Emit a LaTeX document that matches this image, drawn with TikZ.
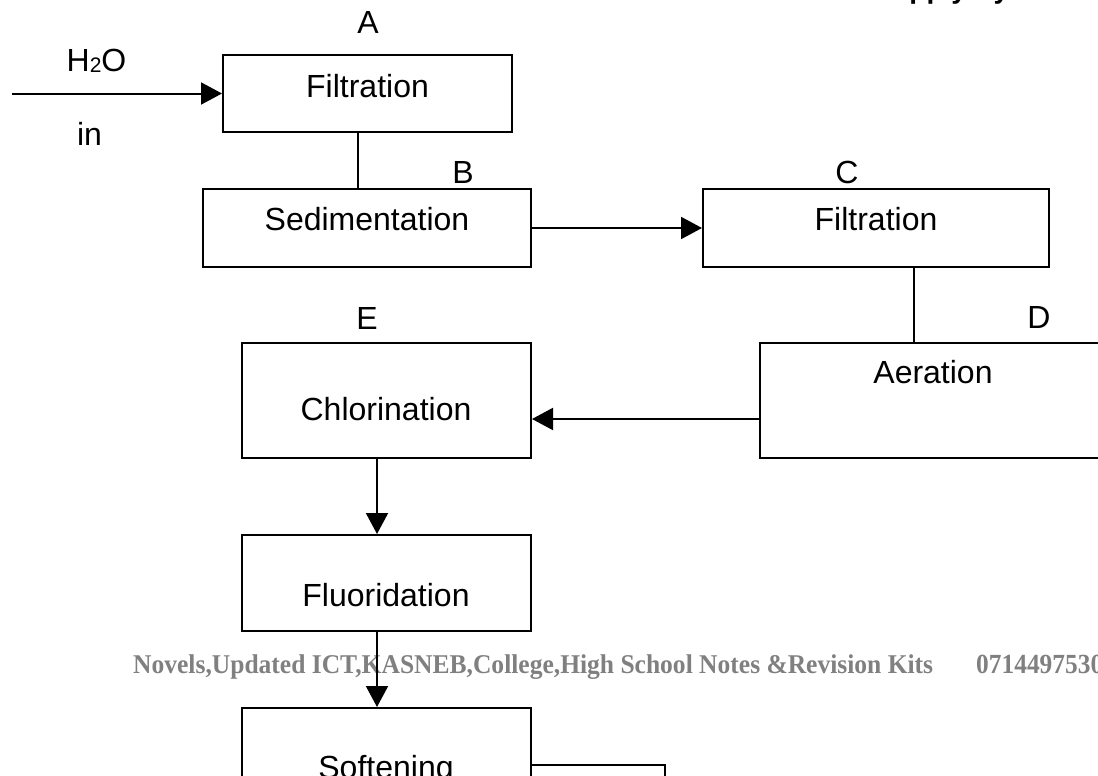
\documentclass[tikz,border=0pt]{standalone}
\usepackage{fontspec}
\setmainfont{Liberation Sans}
\newfontfamily\wmfont{Liberation Serif}
\usetikzlibrary{arrows.meta}
\definecolor{wmgray}{RGB}{128,128,128}
\tikzset{
  box/.style={draw=black, line width=2pt, rectangle, inner sep=0pt},
  txt/.style={inner sep=0pt, anchor=base, font=\fontsize{32}{38}\selectfont},
  wm/.style={inner sep=0pt, anchor=base west, text=wmgray, font=\wmfont\bfseries},
  conn/.style={draw=black, line width=2pt},
  arr/.style={conn, -{Triangle[length=21pt,width=22pt]}}
}
\begin{document}
\begin{tikzpicture}[x=1pt,y=-1pt]
\useasboundingbox (0,0) rectangle (1098,776);
\clip (0,0) rectangle (1098,776);
% boxes
\node[box, minimum width=289pt, minimum height=77pt] (A) at (367.5,93.5) {};
\node[box, minimum width=328pt, minimum height=78pt] (B) at (367,228) {};
\node[box, minimum width=346pt, minimum height=78pt] (C) at (876,228) {};
\node[box, minimum width=346pt, minimum height=115pt] (D) at (933,400.5) {};
\node[box, minimum width=289pt, minimum height=115pt] (E) at (386.5,400.5) {};
\node[box, minimum width=289pt, minimum height=96pt] (F) at (386.5,583) {};
\node[box, minimum width=289pt, minimum height=92pt] (G) at (386.5,754) {};
% box texts
\node[txt] (tA) at (367.5,97) {Filtration};
\node[txt] (tB) at (367,230) {Sedimentation};
\node[txt] (tC) at (876,230) {Filtration};
\node[txt] (tD) at (933,383) {Aeration};
\node[txt] (tE) at (386,420) {Chlorination};
\node[txt] (tF) at (386,606) {Fluoridation};
\node[txt] (tG) at (386,778) {Softening};
% letters
\node[txt] (lA) at (368,34) {A};
\node[txt] (lB) at (463,183) {B};
\node[txt] (lC) at (847,183) {C};
\node[txt] (lD) at (1039,328) {D};
\node[txt] (lE) at (367,329) {E};
\node[txt] (h2o) at (96.5,72) {H\raisebox{-1pt}{\fontsize{21}{24}\selectfont 2}O};
\node[txt] (lin) at (89.5,145) {in};
% top right clipped heading
\node[inner sep=0pt, anchor=base west, font=\fontsize{28}{32}\selectfont\bfseries] (head) at (789,-1) {Water Supply System};
% watermark
\node[wm] (wm1) at (133,673) {\resizebox{800pt}{18.8pt}{Novels,Updated ICT,KASNEB,College,High School Notes \&Revision Kits}};
\node[wm] (wm2) at (976,673) {\resizebox{127pt}{18.4pt}{0714497530}};
% connectors
\coordinate (in) at (12,93.5);
\draw[arr] (in) -- (A.west);
\draw[conn] ([xshift=-9.5pt]A.south) -- ([xshift=-9.5pt]A.south |- B.north);
\draw[arr] (B.east) -- (C.west);
\draw[conn] ([xshift=38pt]C.south) -- ([xshift=38pt]C.south |- D.north);
\draw[arr] ([yshift=-18.5pt]D.west) -- ([yshift=-18.5pt]E.east);
\draw[arr] ([xshift=-9.5pt]E.south) -- ([xshift=-9.5pt]F.north);
\draw[arr] ([xshift=-9.5pt]F.south) -- ([xshift=-9.5pt]G.north);
\coordinate (gend) at (665,800);
\draw[conn] ([yshift=-11pt]G.east) -| (gend);
\end{tikzpicture}
\end{document}
